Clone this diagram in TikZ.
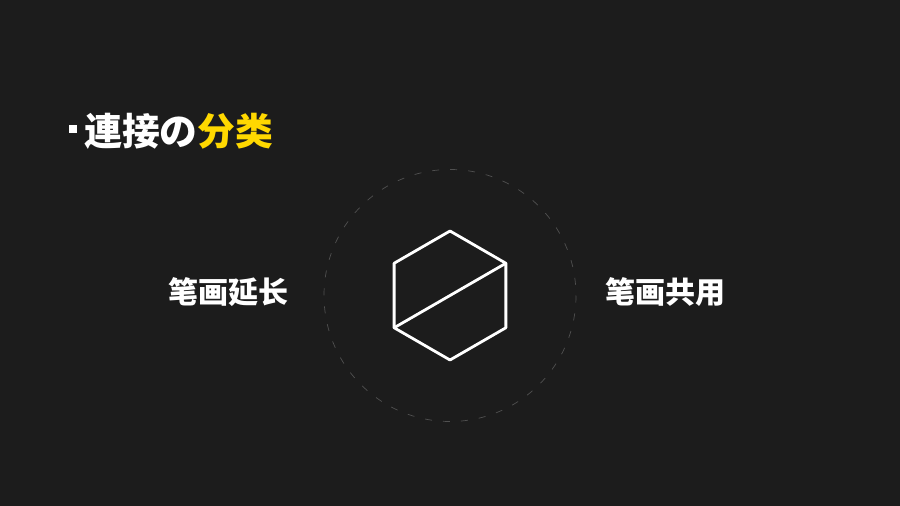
\documentclass[tikz,border=0pt]{standalone}
\usepackage{fontspec}
\usepackage{tikz}
\usetikzlibrary{calc, positioning}
\newfontfamily\cjk{Noto Sans CJK SC}
\definecolor{slideBG}{HTML}{1C1C1C}
\definecolor{slideY}{HTML}{FFD800}
\definecolor{ringG}{HTML}{505050}

\begin{document}
\begin{tikzpicture}[x = 1pt, y = -1pt]
  \def\hexR{64.5}
  \def\ringR{126}

  \tikzset{
    label/.style = {text = white, font = \cjk\bfseries\fontsize{30}{30}\selectfont, inner sep = 0},
    edge/.style = {white, line width = 2.8pt, line cap = round, line join = round}
  }

  % ------------------------
  % background and title
  % ------------------------

  \fill[slideBG] (0, 0) rectangle (900, 506);
  \useasboundingbox (0, 0) rectangle (900, 506);

  \node[fill = white, minimum size = 8pt, inner sep = 0] (bullet) at (73, 129) {};
  \node[anchor = west, inner sep = 0, text = white, font = \cjk\bfseries\fontsize{37.8}{38}\selectfont]
    (title) at (84, 131) {連接の{\color{slideY}分类}};

  % ------------------------
  % ring and hexagon
  % ------------------------

  \coordinate (O) at (450, 295.5);
  \draw[ringG, line width = 0.7pt, dash pattern = on 7pt off 11pt] (O) circle (\ringR);

  \foreach \i/\ang in {1/90, 2/30, 3/-30, 4/-90, 5/-150, 6/150} {
    \coordinate (H\i) at ($(O) + ({\hexR*cos(\ang)}, {-\hexR*sin(\ang)})$);
  }

  \draw[edge] (H1) -- (H2) -- (H3) -- (H4) -- (H5) -- (H6) -- cycle;
  \draw[edge] (H5) to (H2);

  % ------------------------
  % side labels
  % ------------------------

  \node[label] (extend) at (228, 292) {笔画延长};
  \node[label] (share) at (665.5, 292) {笔画共用};
\end{tikzpicture}
\end{document}
